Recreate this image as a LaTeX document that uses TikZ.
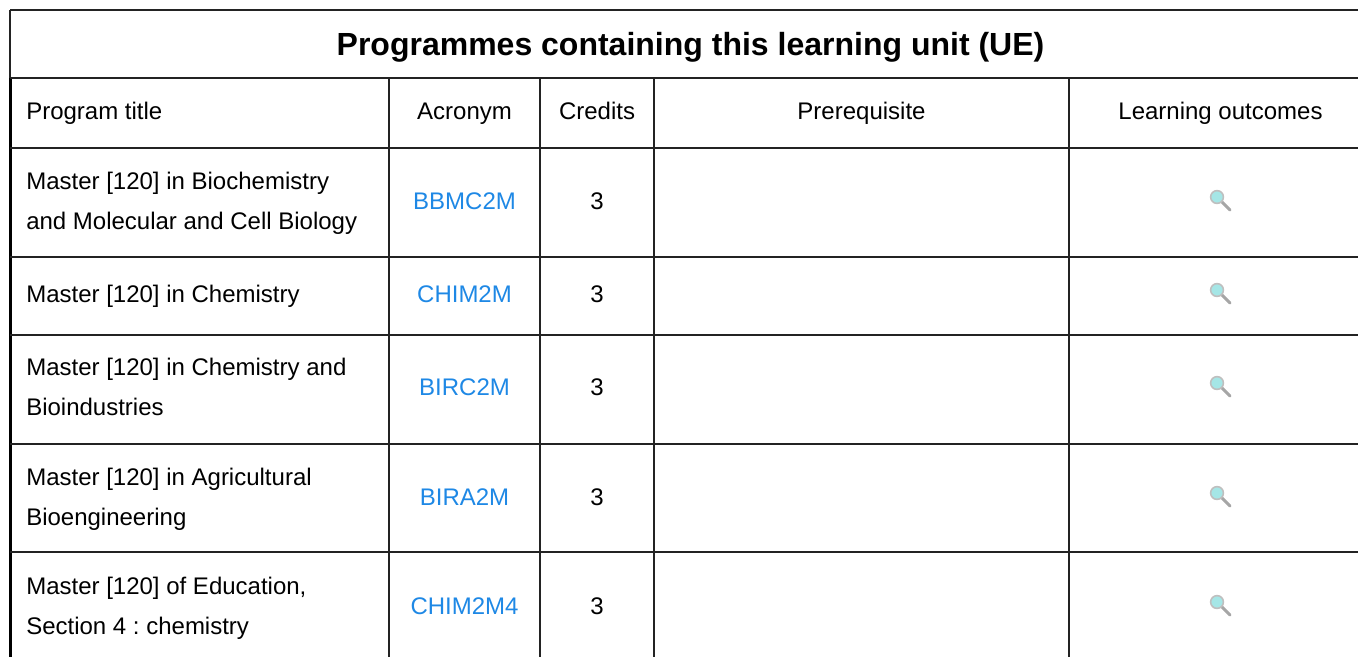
\documentclass[tikz,border=0pt]{standalone}
\usepackage{fontspec}
\setmainfont{Liberation Sans}
\frenchspacing
\definecolor{linkblue}{RGB}{30,136,229}
\definecolor{rulegray}{RGB}{35,35,35}
\definecolor{lensblue}{RGB}{165,230,230}
\tikzset{
  rule/.style={draw=rulegray,line width=1.6pt},
  thickrule/.style={draw=black,line width=2.6pt},
  cell/.style={inner sep=0pt,font=\fontsize{18}{30}\selectfont},
  headcell/.style={cell,anchor=base},
  lefttext/.style={cell,anchor=west,align=left},
  acro/.style={cell,text=linkblue},
  zoomicon/.pic={
    \draw[gray!70,line width=2.2pt,line cap=round] (3,3) -- (13,13);
    \draw[gray!50,fill=lensblue,line width=1.2pt] (0,0) circle (6.4);
  }
}
\begin{document}
\begin{tikzpicture}
[x=0.75pt,y=-0.75pt]
\useasboundingbox (0,0) rectangle (1358,657);
% frame
\draw[rule] (10,10) -- (1358,10);
\draw[rule] (10,10) -- (10,78);
\draw[thickrule] (10.5,78) -- (10.5,657);
\draw[rule] (10,78) -- (1358,78);
\foreach \y in {148,257,335,444,552}
  \draw[rule] (10,\y) -- (1358,\y);
\foreach \x in {389,540,654,1069}
  \draw[rule] (\x,78) -- (\x,657);
% title and header
\node[headcell,font=\bfseries\fontsize{24}{28}\selectfont] (title) at (690.5,55) {Programmes containing this learning unit (UE)};
\node[headcell,anchor=base west] (hprog) at (26,119) {Program title};
\node[headcell] (hacro) at (464.5,119) {Acronym};
\node[headcell] (hcred) at (597,119) {Credits};
\node[headcell] (hprereq) at (861.5,119) {Prerequisite};
\node[headcell] (hout) at (1220.5,119) {Learning outcomes};
% rows
\node[lefttext] (prog1) at (26,203.5) {Master [120] in Biochemistry\\and Molecular and Cell Biology};
\node[lefttext] (prog2) at (26,296.5) {Master [120] in Chemistry};
\node[lefttext] (prog3) at (26,387) {Master [120] in Chemistry and\\Bioindustries};
\node[lefttext] (prog4) at (26,499) {Master [120] in Agricultural\\Bioengineering};
\node[lefttext] (prog5) at (26,608) {Master [120] of Education,\\Section 4 : chemistry};
\node[acro] (acro1) at (464.5,201) {BBMC2M};
\node[acro] (acro2) at (464.5,294) {CHIM2M};
\node[acro] (acro3) at (464.5,387) {BIRC2M};
\node[acro] (acro4) at (464.5,497) {BIRA2M};
\node[acro] (acro5) at (464.5,606) {CHIM2M4};
\foreach \y/\n in {201/1,294/2,387/3,497/4,606/5} {
  \node[cell] (cred\n) at (597,\y) {3};
  \pic at (1217,\y-4) {zoomicon};
}
\end{tikzpicture}
\end{document}
